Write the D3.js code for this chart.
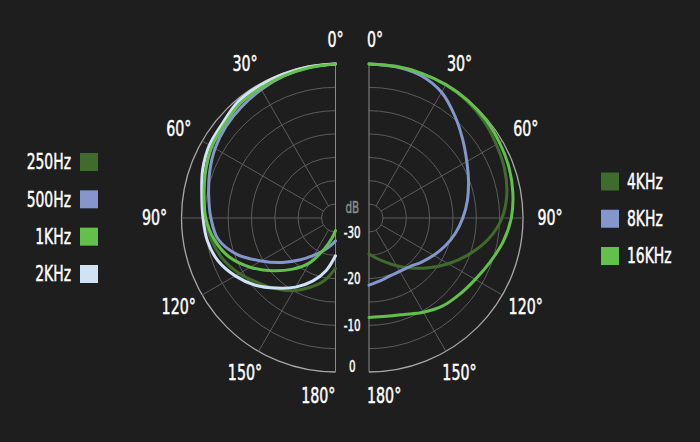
<!DOCTYPE html>
<html>
<head>
<meta charset="utf-8">
<script src="https://cdn.jsdelivr.net/npm/d3@7/dist/d3.min.js"></script>
<style>
html,body{margin:0;padding:0;background:#1e1e1e;}
svg{display:block;}
text{font-family:"DejaVu Sans Condensed","DejaVu Sans",sans-serif;}
</style>
</head>
<body>
<svg id="chart" width="700" height="442"></svg>
<script>
// ---- data ----
const angles = [0,10,20,30,40,50,60,70,80,90,100,110,120,130,140,150,160,170,180];
// left half (dB)
const hz250 = [0,-0.1,-0.3,-0.5,-0.8,-1.6,-2.1,-3.0,-4.1,-5.0,-6.0,-7.3,-9.2,-11.4,-13.2,-15.0,-17.2,-19.4,-22.2];
const hz500 = [0,-0.2,-0.6,-1.2,-1.8,-2.4,-3.2,-4.3,-5.4,-6.3,-7.4,-10.4,-14.6,-18.2,-21.3,-23.8,-25.6,-27.0,-28.1];
const khz1  = [0,-0.3,-0.6,-0.9,-1.1,-1.9,-2.4,-3.4,-4.4,-5.2,-6.6,-8.7,-11.9,-15.4,-18.7,-21.9,-25.9,-28.6,-30.3];
const khz2  = [0,-0.1,-0.2,-0.3,-0.5,-1.4,-1.8,-2.7,-3.9,-4.6,-5.1,-6.2,-8.2,-10.6,-13.4,-15.9,-18.6,-21.6,-24.9];
// right half (dB)
const khz4  = [0,0,0,-0.1,-0.3,-0.8,-1.5,-2.1,-3.0,-4.5,-7.0,-10.2,-13.4,-16.4,-19.0,-21.2,-23.0,-24.3,-25.3];
const khz8  = [0,-0.1,-0.5,-1.9,-4.4,-6.8,-8.8,-10.3,-11.6,-12.9,-14.2,-15.6,-17.0,-18.3,-19.4,-19.8,-19.8,-19.3,-18.6];
const khz16 = [0,0,0,0,-0.1,-0.3,-0.7,-1.1,-1.7,-2.5,-3.8,-5.4,-6.7,-7.6,-8.4,-9.7,-11.0,-11.6,-11.7];

const leftNames  = ["250Hz","500Hz","1KHz","2KHz"];
const rightNames = ["4KHz","8KHz","16KHz"];
const dbTicks = [-30,-20,-10,0];
const ringTicks = [-30,-25,-20,-15,-10,-5,0];
const angleTicks = [0,30,60,90,120,150,180];

const cDark = "#3f6c2c", cBlue = "#8497cc", cGreen = "#63c04a", cLight = "#cfe3f4";
const leftColors  = [cDark, cBlue, cGreen, cLight];
const rightColors = [cDark, cBlue, cGreen];

// ---- layout ----
const svg = d3.select("#chart");
const R = 154, cy = 218;
const cxL = 335.5, cxR = 369;
const r = d3.scaleLinear().domain([-33, 0]).range([0, R]);
const rad = d => d * Math.PI / 180;
const SX = 0.72; // horizontal squeeze to mimic condensed face

function addText(parent, x, y, str, size, anchor, fill) {
  parent.append("g").attr("transform", `translate(${x},${y})`)
    .append("text").attr("transform", `scale(${SX},1)`)
    .attr("text-anchor", anchor).attr("dominant-baseline", "central")
    .attr("fill", fill).attr("stroke", fill).attr("stroke-width", 0.45)
    .attr("font-size", size).text(str);
}

function drawHalf(cx, side, seriesList, colors) {
  const g = svg.append("g").attr("transform", `translate(${cx},${cy})`);
  // rings
  ringTicks.forEach(v => {
    const p = d3.path();
    if (side > 0) p.arc(0, 0, r(v), -Math.PI/2, Math.PI/2, false);
    else p.arc(0, 0, r(v), -Math.PI/2, Math.PI/2, true);
    g.append("path").attr("d", p.toString()).attr("fill", "none")
      .attr("stroke", v === 0 ? "#a8a8a8" : "#5c5c5c").attr("stroke-width", v === 0 ? 1.3 : 1);
  });
  // spokes
  angleTicks.forEach(a => {
    const full = (a === 0 || a === 180);
    const r0 = full ? 0 : r(-30);
    const s = Math.sin(rad(a)) * side, c = -Math.cos(rad(a));
    g.append("line")
      .attr("x1", r0 * s).attr("y1", r0 * c)
      .attr("x2", R * s).attr("y2", R * c)
      .attr("stroke", full ? "#8a8a8a" : "#5c5c5c").attr("stroke-width", 1);
  });
  // angle labels
  angleTicks.forEach(a => {
    const lr = 181;
    let x = Math.sin(rad(a)) * side * lr, y = -Math.cos(rad(a)) * 178;
    let anchor = "middle";
    if (a === 0 || a === 180) {
      x = side > 0 ? -2 : 0;
      anchor = side > 0 ? "start" : (a === 0 ? "middle" : "end");
    }
    addText(g, x, y, a + "°", 22, anchor, "#ffffff");
  });
  // curves
  const line = d3.lineRadial()
    .angle(d => side * rad(d[0]))
    .radius(d => r(d[1]))
    .curve(d3.curveCatmullRom.alpha(0.5));
  seriesList.forEach((vals, i) => {
    g.append("path").datum(angles.map((a, k) => [a, vals[k]]))
      .attr("d", line).attr("fill", "none").attr("stroke", colors[i])
      .attr("stroke-width", 3).attr("stroke-linecap", "round");
  });
}

drawHalf(cxL, -1, [hz250, hz500, khz2, khz1], [cDark, cBlue, cLight, cGreen]);
drawHalf(cxR, 1, [khz4, khz8, khz16], rightColors);

// dB scale labels
const xDb = (cxL + cxR) / 2;
addText(svg, xDb, cy - 10.5, "dB", 16, "middle", "#8c8c8c");
dbTicks.forEach(v => {
  const y = Math.min(cy + r(v), cy + R - 6);
  addText(svg, xDb, y, v, 16, "middle", "#ffffff");
});

// legends
const legY = d3.scalePoint().domain(d3.range(4)).range([162, 274]);
leftNames.forEach((n, i) => {
  svg.append("rect").attr("x", 80).attr("y", legY(i) - 9).attr("width", 18).attr("height", 18).attr("fill", leftColors[i]);
  addText(svg, 71, legY(i), n, 21.5, "end", "#ffffff");
});
const legY2 = d3.scalePoint().domain(d3.range(3)).range([181.5, 256]);
rightNames.forEach((n, i) => {
  svg.append("rect").attr("x", 601).attr("y", legY2(i) - 9).attr("width", 18).attr("height", 18).attr("fill", rightColors[i]);
  addText(svg, 627, legY2(i), n, 21.5, "start", "#ffffff");
});
</script>
</body>
</html>
